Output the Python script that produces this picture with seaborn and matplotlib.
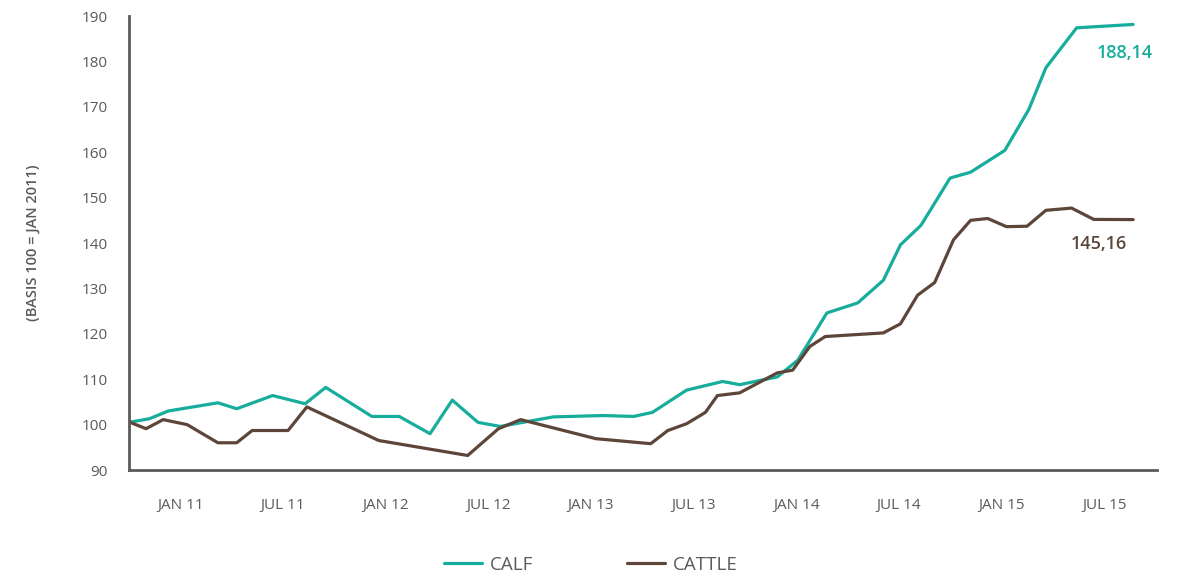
import numpy as np
import pandas as pd
import matplotlib
matplotlib.use("Agg")
import matplotlib.pyplot as plt
import seaborn as sns

# months since Jan 2011 and index values (basis 100 = Jan 2011)
calf_month = [0, 1.2, 2.3, 5.2, 6.3, 8.4, 10.3, 11.5, 14.2, 15.8, 17.6, 18.9,
              20.4, 21.7, 24.8, 27.7, 29.5, 30.6, 32.6, 34.7, 35.7, 37.9, 39.1,
              40.8, 42.6, 44.1, 45.1, 46.3, 48.0, 49.2, 51.2, 52.6, 53.6, 55.4, 58.7]
calf_value = [100.5, 101.3, 103.0, 104.8, 103.5, 106.4, 104.6, 108.2, 101.8, 101.8,
              98.0, 105.4, 100.5, 99.6, 101.7, 102.0, 101.8, 102.7, 107.6, 109.5,
              108.8, 110.5, 114.2, 124.6, 126.8, 131.8, 139.6, 143.9, 154.3, 155.6,
              160.4, 169.4, 178.6, 187.4, 188.14]

cattle_month = [0, 1.0, 2.0, 3.4, 5.2, 6.3, 7.2, 9.3, 10.4, 14.6, 19.8, 21.6, 22.9,
                27.3, 30.5, 31.5, 32.6, 33.7, 34.4, 35.7, 37.9, 38.8, 39.8, 40.7,
                44.1, 45.1, 46.1, 47.1, 48.2, 49.2, 50.2, 51.3, 52.5, 53.6, 55.1,
                56.4, 58.7]
cattle_value = [100.6, 99.1, 101.1, 100.0, 96.0, 96.0, 98.7, 98.7, 103.9, 96.5, 93.2,
                99.1, 101.1, 96.9, 95.8, 98.7, 100.2, 102.7, 106.4, 107.0, 111.4,
                112.0, 117.2, 119.4, 120.2, 122.2, 128.5, 131.3, 140.7, 145.0, 145.4,
                143.6, 143.7, 147.2, 147.7, 145.2, 145.16]

tick_labels = ["JAN 11", "JUL 11", "JAN 12", "JUL 12", "JAN 13",
               "JUL 13", "JAN 14", "JUL 14", "JAN 15", "JUL 15"]

teal = "#17ad9c"
brown = "#5d4639"
grey = "#5a5a5a"

sns.set_style("white")
plt.rcParams['font.family'] = ['Open Sans', 'DejaVu Sans']

fig = plt.figure(figsize=(11.82, 5.76), dpi=100)
ax = fig.add_axes([0.1091, 0.184, 0.8698, 0.7882])

sns.lineplot(x=calf_month, y=calf_value, color=teal, linewidth=2.3, ax=ax, label="CALF")
sns.lineplot(x=cattle_month, y=cattle_value, color=brown, linewidth=2.3, ax=ax, label="CATTLE")

ax.set_xlim(0, 60.1)
ax.set_ylim(90, 190)
ax.set_yticks(range(90, 191, 10))
ax.set_xticks(range(0, 61, 6))
ax.set_xticklabels([])
ax.set_xticks(np.arange(3, 60, 6), minor=True)
ax.set_xticklabels(tick_labels, minor=True)

for s in ["top", "right"]:
    ax.spines[s].set_visible(False)
for s in ["left", "bottom"]:
    ax.spines[s].set_color(grey)
    ax.spines[s].set_linewidth(2)

ax.tick_params(axis="y", which="major", direction="out", length=6, width=2,
               color=grey, labelcolor=grey, labelsize=11, pad=9)
ax.tick_params(axis="x", which="major", direction="out", length=7, width=2, color=grey)
ax.tick_params(axis="x", which="minor", length=0, labelcolor=grey, labelsize=11, pad=20)

ax.set_ylabel("(BASIS 100 = JAN 2011)", color=grey, fontsize=10.5,
              fontweight="semibold", labelpad=30)
ax.set_xlabel("")

ax.annotate("188,14", xy=(calf_month[-1], calf_value[-1]), xytext=(20, -29),
            textcoords="offset pixels", ha="right", va="center",
            color=teal, fontsize=13, fontweight="semibold")
ax.annotate("145,16", xy=(cattle_month[-1], cattle_value[-1]), xytext=(-6, -24),
            textcoords="offset pixels", ha="right", va="center",
            color=brown, fontsize=13, fontweight="semibold")

handles, labels = ax.get_legend_handles_labels()
ax.get_legend().remove()
leg = fig.legend(handles, labels, loc="lower center", bbox_to_anchor=(0.5, -0.025),
                 ncol=2, frameon=False, fontsize=13.5, handlelength=2.0,
                 columnspacing=5.0, handletextpad=0.45)
for t in leg.get_texts():
    t.set_color(grey)

fig.savefig("out.png", dpi=100)
